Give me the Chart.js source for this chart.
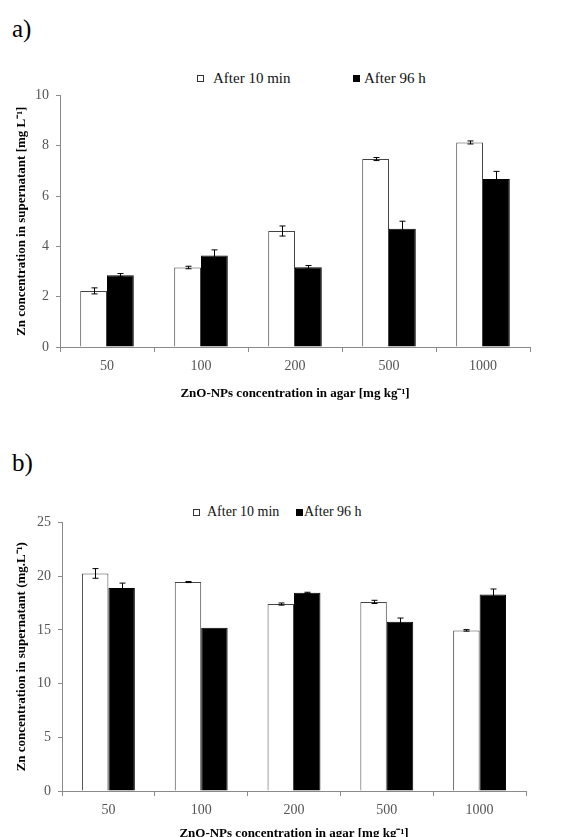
<!DOCTYPE html>
<html>
<head>
<meta charset="utf-8">
<script src="https://cdn.jsdelivr.net/npm/chart.js@4.4.1/dist/chart.umd.min.js"></script>
<style>
  body { margin: 0; width: 582px; height: 837px; overflow: hidden; background: #fff; position: relative;
         font-family: "Liberation Serif", "Times New Roman", serif; }
  .panel { position: absolute; left: 12px; font-size: 25px; line-height: 1; }
  .wrap { position: absolute; left: 0; width: 582px; }
  .leg { position: absolute; display: flex; align-items: center; white-space: nowrap; color: #111; line-height: 1; }
  .sw { display: inline-block; width: 7px; height: 7px; box-sizing: border-box; }
  .sw.w { border: 1px solid #333; background: #fff; }
  .sw.b { background: #000; }
</style>
</head>
<body>
<div class="panel" style="top:16px">a)</div>
<div class="leg" style="left:197px; top:71px; font-size:15px"><span class="sw w" style="margin-right:9px"></span>After 10 min</div>
<div class="leg" style="left:353px; top:71px; font-size:15px"><span class="sw b" style="margin-right:4px"></span>After 96 h</div>
<div class="wrap" style="top:80px; height:321px"><canvas id="chartA"></canvas></div>

<div class="panel" style="top:450px">b)</div>
<div class="leg" style="left:193px; top:505px; font-size:14px"><span class="sw w" style="margin-right:7px"></span>After 10 min</div>
<div class="leg" style="left:296px; top:505px; font-size:14px"><span class="sw b" style="margin-right:1px"></span>After 96 h</div>
<div class="wrap" style="top:507px; height:334px"><canvas id="chartB"></canvas></div>

<script>
const categories = ['50', '100', '200', '500', '1000'];
const seriesNames = ['After 10 min', 'After 96 h'];

// panel a
const a10min = [2.23, 3.16, 4.61, 7.47, 8.13];
const a96h = [2.85, 3.64, 3.17, 4.70, 6.68];
const a10minErr = [0.12, 0.05, 0.2, 0.06, 0.06];
const a96hErr = [0.07, 0.22, 0.07, 0.3, 0.3];

// panel b
const b10min = [20.25, 19.45, 17.4, 17.6, 14.95];
const b96h = [18.9, 15.2, 18.45, 15.75, 18.3];
const b10minErr = [0.45, 0.05, 0.1, 0.15, 0.07];
const b96hErr = [0.45, 0, 0.05, 0.35, 0.5];

const serif = '"Liberation Serif", "Times New Roman", serif';
const axisGrey = '#8a8a8a';

// whiskers drawn from the bar elements and the y scale
const errorBars = {
    id: 'errorBars',
    afterDatasetsDraw(chart) {
        const ctx = chart.ctx;
        const y = chart.scales.y;
        chart.data.datasets.forEach((ds, di) => {
            chart.getDatasetMeta(di).data.forEach((bar, i) => {
                const e = ds.errors[i];
                if (!e) return;
                const x = Math.round(bar.x) + 0.5;
                const top = y.getPixelForValue(ds.data[i] + e);
                const bot = y.getPixelForValue(ds.data[i] - e);
                ctx.save();
                ctx.strokeStyle = '#000';
                ctx.lineWidth = 1;
                ctx.beginPath();
                ctx.moveTo(x, top); ctx.lineTo(x, bot);
                ctx.moveTo(x - 3, top); ctx.lineTo(x + 3, top);
                ctx.moveTo(x - 3, bot); ctx.lineTo(x + 3, bot);
                ctx.stroke();
                ctx.restore();
            });
        });
    }
};

function makeChart(id, white, black, whiteErr, blackErr, yMax, yStep, yTitle, xTitle, padRight, yWidth, xHeight) {
    new Chart(document.getElementById(id), {
        type: 'bar',
        data: {
            labels: categories,
            datasets: [{
                label: seriesNames[0],
                data: white,
                errors: whiteErr,
                backgroundColor: '#fff',
                borderColor: '#444',
                borderWidth: 1,
                categoryPercentage: 0.57,
                barPercentage: 1
            }, {
                label: seriesNames[1],
                data: black,
                errors: blackErr,
                backgroundColor: '#000',
                borderColor: '#000',
                borderWidth: 1,
                categoryPercentage: 0.57,
                barPercentage: 1
            }]
        },
        options: {
            responsive: true,
            maintainAspectRatio: false,
            animation: false,
            layout: { padding: { top: 10, right: padRight, left: 0, bottom: 0 } },
            plugins: { legend: { display: false }, tooltip: { enabled: false } },
            scales: {
                x: {
                    grid: { display: true, drawOnChartArea: false, offset: true, color: axisGrey, tickLength: 5 },
                    border: { color: axisGrey },
                    ticks: { color: '#555', font: { family: serif, size: 14 }, padding: 6 },
                    title: { display: true, text: xTitle, color: '#000',
                             font: { family: serif, size: 13, weight: 'bold' }, padding: 0 },
                    afterFit(s) { s.height = xHeight; }
                },
                y: {
                    min: 0,
                    max: yMax,
                    grid: { drawOnChartArea: false, color: axisGrey, tickLength: 4 },
                    border: { color: axisGrey },
                    ticks: { stepSize: yStep, color: '#555', font: { family: serif, size: 14 }, padding: 7 },
                    title: { display: true, text: yTitle, color: '#000',
                             font: { family: serif, size: 13, weight: 'bold' }, padding: { top: 14, bottom: 0 } },
                    afterFit(s) { s.width = yWidth; }
                }
            }
        },
        plugins: [errorBars]
    });
}

makeChart('chartA', a10min, a96h, a10minErr, a96hErr, 10, 2,
    'Zn concentration in supernatant [mg L\u207B\u00B9]',
    'ZnO-NPs concentration in agar [mg kg\u207B\u00B9]', 52, 60, 54);
makeChart('chartB', b10min, b96h, b10minErr, b96hErr, 25, 5,
    'Zn concentration in supernatant (mg.L\u207B\u00B9)',
    'ZnO-NPs concentration in agar [mg kg\u207B\u00B9]', 56, 62, 50);
</script>
</body>
</html>
